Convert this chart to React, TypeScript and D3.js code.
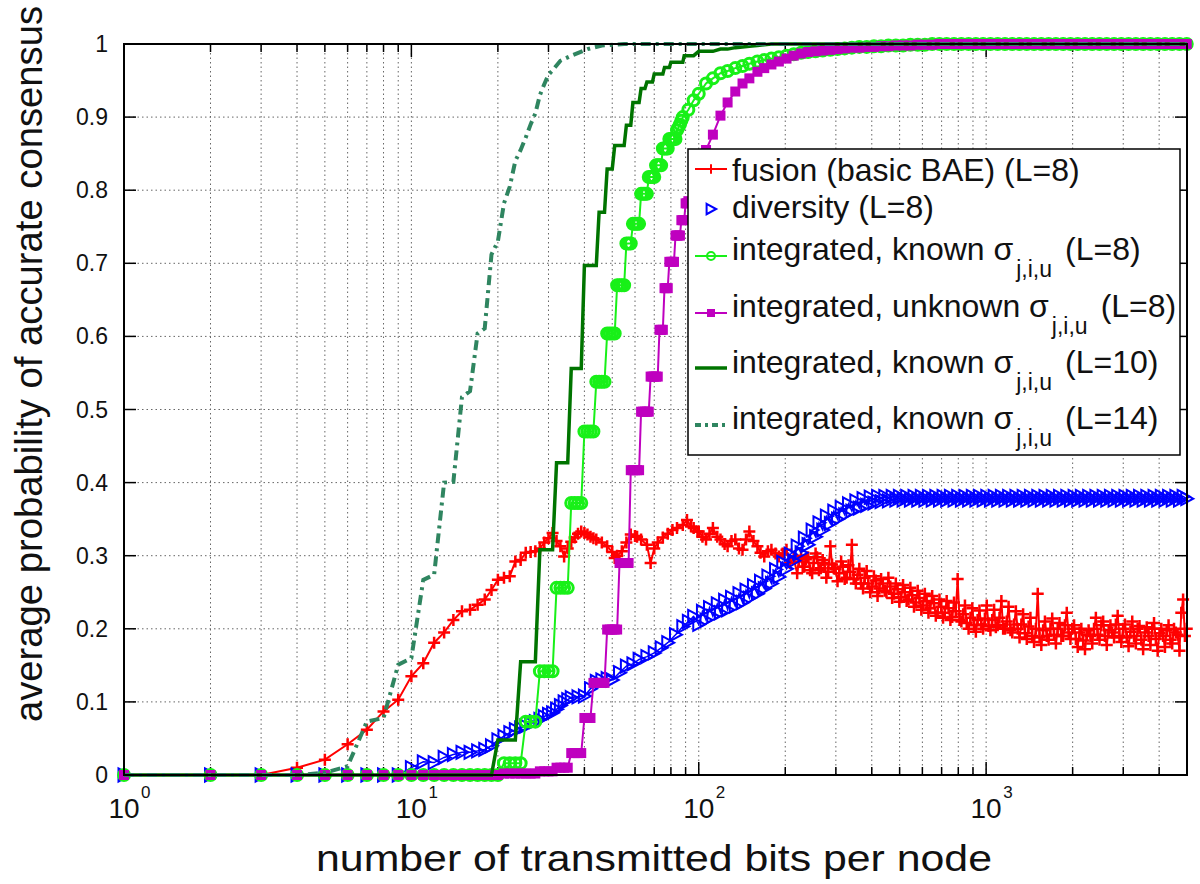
import React, { useEffect, useRef } from 'react';
import * as d3 from 'd3';

// integer bit counts for the first (step) part of the curves
const intBits = [
  1, 2, 3, 4, 5, 6, 7, 8, 9, 10, 11, 12, 13, 14, 15, 16, 17, 18, 19, 20,
  21, 22, 23, 24, 25, 26, 27, 28, 29, 30, 31, 32, 33, 34, 35, 36, 37, 38, 39, 40,
  41, 42, 43, 44, 45, 46, 47, 48, 49, 50, 51, 52, 53, 54, 55, 56, 57, 58, 59, 60,
  61, 62, 63, 64, 65, 66, 67, 68, 69, 70, 71, 72, 73, 74, 75, 76, 77, 78, 79, 80,
  81, 82, 83, 84, 85, 86, 87, 88, 89, 90, 91,
];

// dense tail grid (fusion / diversity)
const denseBits = [
  100, 103, 106, 109, 112, 116, 119, 123, 126, 130,
  134, 138, 142, 146, 150, 155, 160, 164, 169, 174,
  179, 185, 190, 196, 202, 208, 214, 220, 227, 233,
  240, 248, 255, 262, 270, 278, 287, 295, 304, 313,
  322, 332, 341, 352, 362, 373, 384, 395, 407, 419,
  431, 444, 457, 471, 485, 499, 514, 529, 545, 561,
  578, 595, 612, 630, 649, 668, 688, 708, 729, 751,
  773, 796, 820, 844, 869, 895, 921, 948, 976, 1005,
  1035, 1066, 1097, 1130, 1163, 1197, 1233, 1269, 1307, 1345,
  1385, 1426, 1468, 1512, 1556, 1602, 1650, 1698, 1749, 1800,
  1854, 1908, 1965, 2023, 2083, 2144, 2208, 2273, 2340, 2409,
  2480, 2554, 2629, 2707, 2787, 2869, 2954, 3041, 3131, 3224,
  3319, 3417, 3518, 3622, 3729, 3839, 3953, 4069, 4190, 4313,
  4441, 4572, 4707, 4846, 4990,
];

// in-between bit counts for the noisy fusion tail
const midBits = [
  223, 230, 236, 244, 251, 258, 266, 274, 282, 291,
  299, 308, 317, 327, 336, 346, 357, 367, 378, 389,
  401, 413, 425, 437, 450, 464, 478, 492, 506, 521,
  537, 553, 569, 586, 603, 621, 639, 658, 678, 698,
  718, 740, 762, 784, 808, 832, 856, 882, 908, 934,
  962, 990, 1020, 1050, 1081, 1113, 1146, 1180, 1215, 1251,
  1288, 1326, 1365, 1405, 1447, 1490, 1534, 1579, 1626, 1674,
  1723, 1774, 1827, 1881, 1936, 1994, 2053, 2113, 2176, 2240,
  2306, 2374, 2444, 2517, 2591, 2668, 2747, 2828, 2911, 2997,
  3086, 3177, 3271, 3368, 3467, 3570, 3675, 3784, 3896, 4011,
  4129, 4251, 4377, 4506, 4639, 4776, 4917,
];

// coarser tail grid (integrated curves near 1)
const coarseBits = [
  92, 96, 100, 106, 112, 119, 126, 134, 142, 150,
  160, 169, 179, 190, 202, 214, 227, 240, 255, 270,
  287, 304, 322, 341, 362, 384, 407, 431, 457, 485,
  514, 545, 578, 612, 649, 688, 729, 773, 820, 869,
  921, 976, 1035, 1097, 1163, 1233, 1307, 1385, 1468, 1556,
  1650, 1749, 1854, 1965, 2083, 2208, 2340, 2480, 2629, 2787,
  2954, 3131, 3319, 3518, 3729, 3953, 4190, 4441, 4707, 4990,
];

// fusion (basic BAE)
const fusionBits = [
  1, 2, 3, 4, 5, 6, 7, 8, 9, 10, 11, 12, 13, 14, 15, 16, 17, 18, 19, 20,
  21, 22, 23, 24, 25, 26, 27, 28, 29, 30, 31, 32, 33, 34, 35, 36, 37, 38, 39, 40,
  41, 42, 43, 44, 46, 48, 50, 51, 52, 54, 56, 58, 60, 61, 63, 66, 68, 70, 72, 75,
  78, 81, 84, 88, 91, 94, 96, 99,
];
const fusionLow = [
  0, 0, 0, 0.01, 0.021, 0.042, 0.062, 0.087, 0.103, 0.135,
  0.153, 0.181, 0.195, 0.212, 0.224, 0.226, 0.233, 0.24, 0.253, 0.267,
  0.27, 0.272, 0.292, 0.294, 0.304, 0.305, 0.306, 0.31, 0.318, 0.324,
  0.331, 0.32, 0.313, 0.299, 0.31, 0.319, 0.325, 0.33, 0.333, 0.331,
  0.329, 0.326, 0.324, 0.322, 0.318, 0.313, 0.305, 0.297, 0.3, 0.306,
  0.318, 0.329, 0.327, 0.326, 0.322, 0.315, 0.29, 0.31, 0.318, 0.325,
  0.33, 0.335, 0.338, 0.342, 0.349, 0.34, 0.338, 0.333,
];
const fusionTail = [
  0.333, 0.326, 0.322, 0.33, 0.338, 0.326, 0.322, 0.316, 0.313, 0.32,
  0.322, 0.31, 0.308, 0.322, 0.333, 0.32, 0.313, 0.304, 0.299, 0.306,
  0.308, 0.303, 0.299, 0.303, 0.308, 0.29, 0.296, 0.276, 0.3, 0.285,
  0.298, 0.276, 0.303, 0.28, 0.294, 0.27, 0.313, 0.283, 0.265, 0.292,
  0.268, 0.287, 0.315, 0.262, 0.282, 0.255, 0.279, 0.25, 0.272, 0.245,
  0.268, 0.252, 0.27, 0.242, 0.262, 0.237, 0.26, 0.238, 0.256, 0.23,
  0.252, 0.226, 0.248, 0.222, 0.245, 0.218, 0.24, 0.215, 0.238, 0.212,
  0.236, 0.268, 0.21, 0.232, 0.2, 0.228, 0.196, 0.225, 0.2, 0.232,
  0.198, 0.226, 0.205, 0.238, 0.2, 0.23, 0.195, 0.224, 0.188, 0.22,
  0.186, 0.215, 0.182, 0.248, 0.178, 0.21, 0.185, 0.214, 0.18, 0.208,
  0.19, 0.222, 0.186, 0.205, 0.175, 0.2, 0.172, 0.198, 0.18, 0.215,
  0.185, 0.21, 0.178, 0.205, 0.188, 0.218, 0.182, 0.206, 0.176, 0.21,
  0.18, 0.204, 0.172, 0.202, 0.178, 0.208, 0.17, 0.2, 0.175, 0.205,
  0.18, 0.195, 0.17, 0.24, 0.2,
];
const fusionMid = [
  0.292, 0.285, 0.295, 0.28, 0.29, 0.298, 0.283, 0.29, 0.278, 0.288,
  0.282, 0.276, 0.285, 0.27, 0.278, 0.268, 0.274, 0.262, 0.27, 0.262,
  0.258, 0.266, 0.255, 0.262, 0.25, 0.258, 0.248, 0.254, 0.243, 0.25,
  0.24, 0.246, 0.236, 0.242, 0.232, 0.238, 0.228, 0.235, 0.222, 0.23,
  0.222, 0.228, 0.216, 0.224, 0.212, 0.22, 0.208, 0.215, 0.205, 0.212,
  0.206, 0.214, 0.204, 0.212, 0.202, 0.215, 0.2, 0.21, 0.198, 0.206,
  0.2, 0.206, 0.194, 0.203, 0.19, 0.2, 0.188, 0.198, 0.19, 0.2,
  0.192, 0.2, 0.19, 0.205, 0.195, 0.2, 0.186, 0.195, 0.184, 0.192,
  0.19, 0.2, 0.192, 0.205, 0.19, 0.198, 0.195, 0.206, 0.19, 0.2,
  0.188, 0.196, 0.19, 0.2, 0.185, 0.195, 0.19, 0.2, 0.186, 0.194,
  0.19, 0.198, 0.185, 0.2, 0.192, 0.222, 0.19,
];

// diversity
const diversityBits = [
  1, 2, 3, 4, 5, 6, 7, 8, 9, 10, 11, 12, 13, 14, 15, 16, 17, 18, 19, 20,
  21, 22, 23, 24, 25, 26, 27, 28, 29, 30, 31, 32, 33, 34, 35, 36, 38, 40, 42, 44,
  46, 48, 50, 53, 56, 59, 62, 66, 70, 74, 78, 83, 88, 92, 96,
];
const diversityLow = [
  0, 0, 0, 0, 0, 0, 0, 0, 0, 0.01,
  0.018, 0.017, 0.024, 0.028, 0.031, 0.031, 0.033, 0.035, 0.04, 0.048,
  0.053, 0.058, 0.062, 0.064, 0.067, 0.07, 0.073, 0.076, 0.08, 0.083,
  0.085, 0.09, 0.095, 0.1, 0.103, 0.106, 0.107, 0.108, 0.118, 0.128,
  0.13, 0.132, 0.13, 0.14, 0.149, 0.152, 0.158, 0.162, 0.167, 0.174,
  0.181, 0.192, 0.203, 0.21, 0.217,
];
const diversityTail = [
  0.206, 0.224, 0.212, 0.229, 0.217, 0.234, 0.222, 0.239, 0.226, 0.243,
  0.231, 0.248, 0.236, 0.253, 0.242, 0.259, 0.248, 0.265, 0.255, 0.272,
  0.262, 0.281, 0.271, 0.291, 0.282, 0.302, 0.293, 0.313, 0.304, 0.324,
  0.315, 0.335, 0.326, 0.345, 0.335, 0.354, 0.344, 0.361, 0.35, 0.366,
  0.356, 0.371, 0.361, 0.375, 0.365, 0.378, 0.369, 0.38, 0.372, 0.381,
  0.374, 0.381, 0.375, 0.381, 0.376, 0.381, 0.376, 0.381, 0.376, 0.381,
  0.376, 0.381, 0.376, 0.381, 0.376, 0.381, 0.376, 0.381, 0.376, 0.381,
  0.376, 0.381, 0.376, 0.381, 0.376, 0.381, 0.376, 0.381, 0.376, 0.381,
  0.376, 0.381, 0.376, 0.381, 0.376, 0.381, 0.376, 0.381, 0.376, 0.381,
  0.376, 0.381, 0.376, 0.381, 0.376, 0.381, 0.376, 0.381, 0.376, 0.381,
  0.376, 0.381, 0.376, 0.381, 0.376, 0.381, 0.376, 0.381, 0.376, 0.381,
  0.376, 0.381, 0.376, 0.381, 0.376, 0.381, 0.376, 0.381, 0.376, 0.381,
  0.376, 0.381, 0.376, 0.381, 0.376, 0.381, 0.376, 0.381, 0.376, 0.381,
  0.376, 0.381, 0.376, 0.381, 0.378,
];

// integrated, known sigma (L=8)
const knownL8Low = [
  0, 0, 0, 0, 0, 0, 0, 0, 0, 0, 0, 0, 0, 0, 0, 0, 0, 0, 0, 0,
  0.016, 0.016, 0.016, 0.016, 0.073, 0.073, 0.073, 0.142, 0.142, 0.142,
  0.142, 0.256, 0.256, 0.256, 0.256, 0.372, 0.372, 0.372, 0.372, 0.47,
  0.47, 0.47, 0.47, 0.538, 0.538, 0.538, 0.538, 0.604, 0.604, 0.604,
  0.604, 0.67, 0.67, 0.67, 0.67, 0.727, 0.727, 0.727, 0.754, 0.754,
  0.754, 0.754, 0.795, 0.795, 0.795, 0.795, 0.818, 0.818, 0.818, 0.818,
  0.834, 0.834, 0.834, 0.834, 0.857, 0.857, 0.857, 0.857, 0.87, 0.87,
  0.87, 0.87, 0.87, 0.882, 0.886, 0.89, 0.895, 0.9,
];
const knownL8Tail = [
  0.91, 0.923, 0.932, 0.946, 0.953, 0.96, 0.963, 0.967, 0.97, 0.973,
  0.976, 0.978, 0.98, 0.982, 0.984, 0.986, 0.988, 0.989, 0.99, 0.991,
  0.992, 0.993, 0.994, 0.995, 0.996, 0.996, 0.997, 0.997, 0.998, 0.998,
  0.998, 0.999, 0.999, 0.999, 1, 1, 1, 1, 1, 1,
  1, 1, 1, 1, 1, 1, 1, 1, 1, 1,
  1, 1, 1, 1, 1, 1, 1, 1, 1, 1,
  1, 1, 1, 1, 1, 1, 1, 1, 1, 1,
];

// integrated, unknown sigma (L=8)
const unknownL8Low = [
  0, 0, 0, 0, 0, 0, 0, 0, 0, 0, 0, 0, 0, 0, 0, 0, 0, 0, 0, 0,
  0.002, 0.002, 0.002, 0.002, 0.002, 0.002, 0.002, 0.005, 0.005, 0.005,
  0.005, 0.01, 0.01, 0.01, 0.01, 0.03, 0.03, 0.03, 0.03, 0.078,
  0.078, 0.078, 0.126, 0.126, 0.126, 0.126, 0.126, 0.199, 0.199, 0.199,
  0.199, 0.199, 0.29, 0.29, 0.29, 0.29, 0.29, 0.417, 0.417, 0.417,
  0.417, 0.417, 0.497, 0.497, 0.497, 0.497, 0.497, 0.545, 0.545, 0.545,
  0.545, 0.545, 0.609, 0.609, 0.609, 0.666, 0.666, 0.666, 0.702, 0.702,
  0.702, 0.702, 0.738, 0.738, 0.738, 0.738, 0.759, 0.759, 0.759, 0.782,
  0.782,
];
const unknownL8Tail = [
  0.785, 0.81, 0.83, 0.855, 0.876, 0.902, 0.92, 0.935, 0.946, 0.953,
  0.962, 0.967, 0.972, 0.976, 0.98, 0.984, 0.987, 0.989, 0.99, 0.991,
  0.992, 0.993, 0.994, 0.995, 0.995, 0.996, 0.996, 0.997, 0.997, 0.998,
  0.998, 0.998, 0.999, 0.999, 0.999, 1, 1, 1, 1, 1,
  1, 1, 1, 1, 1, 1, 1, 1, 1, 1,
  1, 1, 1, 1, 1, 1, 1, 1, 1, 1,
  1, 1, 1, 1, 1, 1, 1, 1, 1, 1,
];

// integrated, known sigma (L=10)
const knownL10Low = [
  0, 0, 0, 0, 0, 0, 0, 0, 0, 0, 0, 0, 0, 0, 0, 0, 0, 0, 0, 0.048,
  0.048, 0.048, 0.048, 0.155, 0.155, 0.155, 0.155, 0.308, 0.308, 0.308,
  0.308, 0.427, 0.427, 0.427, 0.427, 0.556, 0.556, 0.556, 0.556, 0.697,
  0.697, 0.697, 0.697, 0.697, 0.77, 0.77, 0.77, 0.829, 0.829, 0.829,
  0.861, 0.861, 0.861, 0.861, 0.861, 0.889, 0.889, 0.889, 0.92, 0.92,
  0.92, 0.92, 0.939, 0.939, 0.939, 0.948, 0.948, 0.948, 0.948, 0.959,
  0.959, 0.959, 0.959, 0.959, 0.959, 0.968, 0.968, 0.968, 0.968, 0.975,
  0.975, 0.975, 0.975, 0.975, 0.975, 0.975, 0.975, 0.975, 0.984, 0.984,
  0.984,
];
const knownL10Tail = [
  0.984, 0.984, 0.99, 0.99, 0.99, 0.993, 0.993, 0.995, 0.996, 0.997,
  0.998, 0.999, 1, 1, 1, 1, 1, 1, 1, 1,
  1, 1, 1, 1, 1, 1, 1, 1, 1, 1,
  1, 1, 1, 1, 1, 1, 1, 1, 1, 1,
  1, 1, 1, 1, 1, 1, 1, 1, 1, 1,
  1, 1, 1, 1, 1, 1, 1, 1, 1, 1,
  1, 1, 1, 1, 1, 1, 1, 1, 1, 1,
];

// integrated, known sigma (L=14)
const knownL14Bits = [
  1, 2, 3, 4, 5, 6, 7, 8, 9, 10, 11, 12, 13, 14, 15, 16, 17, 18, 19, 20,
  21, 22, 23, 24, 25, 26, 27, 28, 29, 30, 31, 33, 36, 41, 46, 55, 100, 1000, 5000,
];
const knownL14 = [
  0, 0, 0, 0, 0.003, 0.012, 0.073, 0.078, 0.151, 0.16,
  0.267, 0.274, 0.4, 0.401, 0.517, 0.525, 0.604, 0.611, 0.712, 0.73,
  0.782, 0.805, 0.84, 0.855, 0.872, 0.89, 0.905, 0.93, 0.945, 0.958,
  0.964, 0.977, 0.984, 0.993, 0.998, 1, 1, 1, 1,
];

const yTicks = [0, 0.1, 0.2, 0.3, 0.4, 0.5, 0.6, 0.7, 0.8, 0.9, 1];
const yTickLabels = ['0', '0.1', '0.2', '0.3', '0.4', '0.5', '0.6', '0.7', '0.8', '0.9', '1'];
const decades = [0, 1, 2, 3];

const FONT = '"Liberation Sans", Arial, Helvetica, sans-serif';

export default function App() {
  const ref = useRef<SVGSVGElement>(null);

  useEffect(() => {
    const width = 1200, height = 884;
    const plot = { left: 124, right: 1187, top: 44, bottom: 775 };

    const svg = d3.select(ref.current).attr('width', width).attr('height', height);
    svg.selectAll('*').remove();
    svg.append('rect').attr('width', width).attr('height', height).attr('fill', '#fff');

    const xScale = d3.scaleLog().domain([1, 5000]).range([plot.left, plot.right]);
    const yScale = d3.scaleLinear().domain([0, 1]).range([plot.bottom, plot.top]);

    // minor + major log positions
    const xGridVals: number[] = [];
    decades.forEach(d => {
      for (let k = 1; k <= 9; k++) {
        const v = k * Math.pow(10, d);
        if (v > 1 && v < 5000) xGridVals.push(v);
      }
    });

    // grid
    const grid = svg.append('g').attr('stroke', '#666').attr('stroke-width', 1).attr('stroke-dasharray', '1.5,3');
    grid.selectAll('.gx').data(xGridVals).join('line').attr('class', 'gx')
      .attr('x1', d => xScale(d)).attr('x2', d => xScale(d))
      .attr('y1', plot.top).attr('y2', plot.bottom);
    grid.selectAll('.gy').data(yTicks.filter(t => t > 0 && t < 1)).join('line').attr('class', 'gy')
      .attr('x1', plot.left).attr('x2', plot.right)
      .attr('y1', d => yScale(d)).attr('y2', d => yScale(d));

    // ticks
    const ticks = svg.append('g').attr('stroke', '#000').attr('stroke-width', 1.5);
    yTicks.forEach(t => {
      ticks.append('line').attr('x1', plot.left).attr('x2', plot.left + 12).attr('y1', yScale(t)).attr('y2', yScale(t));
      ticks.append('line').attr('x1', plot.right).attr('x2', plot.right - 12).attr('y1', yScale(t)).attr('y2', yScale(t));
    });
    xGridVals.forEach(v => {
      const major = Number.isInteger(Math.log10(v));
      const len = major ? 13 : 8;
      ticks.append('line').attr('x1', xScale(v)).attr('x2', xScale(v)).attr('y1', plot.bottom).attr('y2', plot.bottom - len);
      ticks.append('line').attr('x1', xScale(v)).attr('x2', xScale(v)).attr('y1', plot.top).attr('y2', plot.top + len);
    });

    // fusion points, low part + tail + in-between tail points, ordered by bits
    const fusionPts: [number, number][] = fusionBits.map((b, i) => [b, fusionLow[i]] as [number, number])
      .concat(denseBits.map((b, i) => [b, fusionTail[i]] as [number, number]))
      .concat(midBits.map((b, i) => [b, fusionMid[i]] as [number, number]))
      .sort((a, b) => a[0] - b[0]);
    const zip = (xs: number[], ys: number[]) => xs.map((x, i) => [x, ys[i]] as [number, number]);

    const series = [
      { pts: fusionPts, color: '#ff0000', lw: 2, marker: 'plus', dash: '' },
      { pts: zip(diversityBits.concat(denseBits), diversityLow.concat(diversityTail)), color: '#0000ff', lw: 1.5, marker: 'tri', dash: '' },
      { pts: zip(intBits.slice(0, knownL8Low.length).concat(coarseBits), knownL8Low.concat(knownL8Tail)), color: '#18f018', lw: 2, marker: 'circle', dash: '' },
      { pts: zip(intBits.slice(0, unknownL8Low.length).concat(coarseBits), unknownL8Low.concat(unknownL8Tail)), color: '#bf00bf', lw: 2, marker: 'square', dash: '' },
      { pts: zip(intBits.slice(0, knownL10Low.length).concat(coarseBits), knownL10Low.concat(knownL10Tail)), color: '#007400', lw: 3.5, marker: 'none', dash: '' },
      { pts: zip(knownL14Bits, knownL14), color: '#2f8560', lw: 4, marker: 'none', dash: '10,5,3,5' },
    ];

    const line = d3.line<[number, number]>().x(d => xScale(d[0])).y(d => yScale(d[1]));

    const drawMarker = (g: any, kind: string, color: string, cx: number, cy: number, small = false) => {
      const k = small ? 0.8 : 1;
      if (kind === 'plus') {
        g.append('path').attr('d', `M${cx - 6 * k},${cy}H${cx + 6 * k}M${cx},${cy - 6 * k}V${cy + 6 * k}`)
          .attr('stroke', color).attr('stroke-width', small ? 2 : 2.5).attr('fill', 'none');
      } else if (kind === 'tri') {
        g.append('path').attr('d', `M${cx - 5.5 * k},${cy - 6.5 * k}L${cx + 6.5 * k},${cy}L${cx - 5.5 * k},${cy + 6.5 * k}Z`)
          .attr('stroke', color).attr('stroke-width', 2).attr('fill', 'none');
      } else if (kind === 'circle') {
        g.append('circle').attr('cx', cx).attr('cy', cy).attr('r', small ? 4 : 5.5)
          .attr('stroke', color).attr('stroke-width', small ? 2 : 3).attr('fill', 'none');
      } else if (kind === 'square') {
        const s = small ? 8 : 10;
        g.append('rect').attr('x', cx - s / 2).attr('y', cy - s / 2).attr('width', s).attr('height', s).attr('fill', color);
      }
    };

    series.forEach(s => {
      const g = svg.append('g');
      g.append('path').attr('d', line(s.pts)).attr('fill', 'none').attr('stroke', s.color)
        .attr('stroke-width', s.lw).attr('stroke-dasharray', s.dash || null);
      if (s.marker !== 'none') {
        s.pts.forEach(p => drawMarker(g, s.marker, s.color, xScale(p[0]), yScale(p[1])));
      }
    });

    // box
    svg.append('rect').attr('x', plot.left).attr('y', plot.top)
      .attr('width', plot.right - plot.left).attr('height', plot.bottom - plot.top)
      .attr('fill', 'none').attr('stroke', '#000').attr('stroke-width', 2);

    // tick labels
    const labels = svg.append('g').attr('font-family', FONT).attr('fill', '#111');
    yTicks.forEach((t, i) => {
      labels.append('text').attr('x', 108).attr('y', yScale(t) + 8).attr('text-anchor', 'end')
        .attr('font-size', 23).text(yTickLabels[i]);
    });
    decades.forEach(d => {
      const px = xScale(Math.pow(10, d));
      labels.append('text').attr('x', px).attr('y', 818).attr('text-anchor', 'middle').attr('font-size', 28).text('10');
      labels.append('text').attr('x', px + 17).attr('y', 798).attr('font-size', 17).text(String(d));
    });

    // axis titles
    labels.append('text').attr('x', 654).attr('y', 871).attr('text-anchor', 'middle')
      .attr('font-size', 36).attr('textLength', 676).attr('lengthAdjust', 'spacingAndGlyphs')
      .text('number of transmitted bits per node');
    labels.append('text').attr('transform', 'translate(42,364) rotate(-90)').attr('text-anchor', 'middle')
      .attr('font-size', 38).attr('textLength', 716).attr('lengthAdjust', 'spacingAndGlyphs')
      .text('average probability of accurate consensus');

    // legend
    const leg = svg.append('g');
    leg.append('rect').attr('x', 688).attr('y', 149).attr('width', 492).attr('height', 306)
      .attr('fill', '#fff').attr('stroke', '#000').attr('stroke-width', 1.5);
    const rows = [
      { s: series[0], lineY: 169, base: 181, text: 'fusion (basic BAE) (L=8)', sub: '', tail: '' },
      { s: series[1], lineY: 209, base: 218, text: 'diversity (L=8)', sub: '', tail: '' },
      { s: series[2], lineY: 256, base: 260, text: 'integrated, known σ', sub: 'j,i,u', tail: '(L=8)' },
      { s: series[3], lineY: 313, base: 317, text: 'integrated, unknown σ', sub: 'j,i,u', tail: '(L=8)' },
      { s: series[4], lineY: 368, base: 373, text: 'integrated, known σ', sub: 'j,i,u', tail: '(L=10)' },
      { s: series[5], lineY: 425, base: 429, text: 'integrated, known σ', sub: 'j,i,u', tail: '(L=14)' },
    ];
    rows.forEach(r => {
      if (r.s.marker !== 'tri') {
        leg.append('line').attr('x1', 695).attr('x2', 727).attr('y1', r.lineY).attr('y2', r.lineY)
          .attr('stroke', r.s.color).attr('stroke-width', r.s.lw).attr('stroke-dasharray', r.s.dash ? '6,4,3,4' : null);
      }
      if (r.s.marker !== 'none') drawMarker(leg, r.s.marker, r.s.color, 711, r.lineY, true);
      const t = leg.append('text').attr('x', 732).attr('y', r.base).attr('font-family', FONT)
        .attr('font-size', 32).attr('fill', '#111').text(r.text);
      if (r.sub) {
        t.append('tspan').attr('font-size', 23).attr('dy', 17).attr('dx', 3).text(r.sub);
        t.append('tspan').attr('font-size', 32).attr('dy', -17).attr('dx', 13).text(r.tail);
      }
    });
  }, []);

  return (
    <div style={{ position: 'absolute', left: 0, top: 0 }}>
      <svg ref={ref} style={{ display: 'block' }} />
    </div>
  );
}
